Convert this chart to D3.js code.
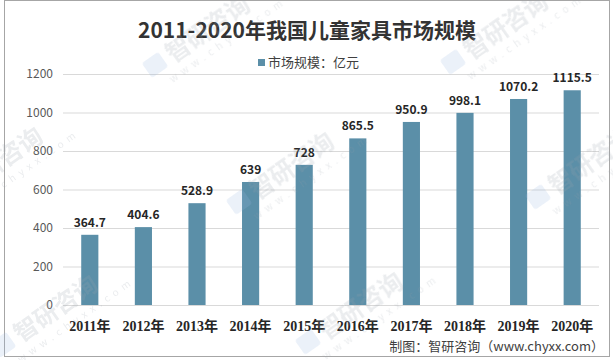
<!DOCTYPE html>
<html>
<head>
<meta charset="utf-8">
<script src="https://cdn.jsdelivr.net/npm/d3@7"></script>
<style>
body { margin: 0; background: #fff; }
</style>
</head>
<body>
<script>
const years = ["2011年", "2012年", "2013年", "2014年", "2015年", "2016年", "2017年", "2018年", "2019年", "2020年"];
const values = [364.7, 404.6, 528.9, 639, 728, 865.5, 950.9, 998.1, 1070.2, 1115.5];
const yTicks = [0, 200, 400, 600, 800, 1000, 1200];

let width = 613;
let height = 360;
let plotLeft = 63, plotRight = 599, plotTop = 74, plotBottom = 305;

let svg = d3.select("body")
    .append("svg")
    .attr("width", width)
    .attr("height", height)
    .style("font-family", "'Microsoft YaHei', 'Noto Sans CJK SC', sans-serif");

svg.append("rect")
    .attr("x", 4.5).attr("y", 0.5)
    .attr("width", 605).attr("height", 356)
    .attr("fill", "#fff")
    .attr("stroke", "#a6a6a6");

let x = d3.scaleBand()
    .domain(years)
    .range([plotLeft, plotRight])
    .paddingInner(0.68)
    .paddingOuter(0.34);
let y = d3.scaleLinear()
    .domain([0, 1200])
    .range([plotBottom, plotTop]);

// сетка
svg.append("g")
    .selectAll("line")
    .data(yTicks)
    .join("line")
    .attr("x1", plotLeft).attr("x2", plotRight)
    .attr("y1", d => y(d) + 0.5).attr("y2", d => y(d) + 0.5)
    .attr("stroke", "#d9d9d9");

svg.append("g")
    .selectAll("text")
    .data(yTicks)
    .join("text")
    .attr("x", 53)
    .attr("y", d => y(d) + 4)
    .attr("text-anchor", "end")
    .attr("font-size", 12)
    .attr("fill", "#595959")
    .text(d => d);

// столбцы
svg.append("g")
    .selectAll("rect")
    .data(values)
    .join("rect")
    .attr("x", (d, i) => x(years[i]))
    .attr("y", d => y(d))
    .attr("width", x.bandwidth())
    .attr("height", d => y(0) - y(d))
    .attr("fill", "#5b8fa8");

svg.append("g")
    .selectAll("text")
    .data(values)
    .join("text")
    .attr("x", (d, i) => x(years[i]) + x.bandwidth() / 2)
    .attr("y", d => y(d) - 8)
    .attr("text-anchor", "middle")
    .attr("font-size", 12)
    .attr("font-weight", "bold")
    .attr("fill", "#262626")
    .text(d => d);

svg.append("g")
    .selectAll("text")
    .data(years)
    .join("text")
    .attr("x", d => x(d) + x.bandwidth() / 2)
    .attr("y", 331)
    .attr("text-anchor", "middle")
    .attr("font-size", 14)
    .attr("font-weight", "bold")
    .attr("font-family", "'Liberation Serif', 'Noto Sans CJK SC', serif")
    .attr("fill", "#262626")
    .text(d => d);

// заголовок и легенда
svg.append("text")
    .attr("x", 307).attr("y", 38)
    .attr("text-anchor", "middle")
    .attr("font-size", 21)
    .attr("font-weight", "bold")
    .attr("fill", "#333")
    .text("2011-2020年我国儿童家具市场规模");

svg.append("rect")
    .attr("x", 258).attr("y", 59)
    .attr("width", 7).attr("height", 7)
    .attr("fill", "#5b8fa8");
svg.append("text")
    .attr("x", 268).attr("y", 67)
    .attr("font-size", 13)
    .attr("fill", "#404040")
    .text("市场规模：亿元");

svg.append("text")
    .attr("x", 604).attr("y", 351)
    .attr("text-anchor", "end")
    .attr("font-size", 13)
    .attr("fill", "#404040")
    .text("制图：智研咨询（www.chyxx.com）");

// водяные знаки
let marks = [[152, 78], [450, 75], [-55, 210], [236, 215], [535, 210], [0, 358], [305, 355]];
let wm = svg.append("g").attr("opacity", 0.2).attr("pointer-events", "none");
marks.forEach(p => {
    let g = wm.append("g").attr("transform", `translate(${p[0]},${p[1]}) rotate(-35)`);
    g.append("rect").attr("x", 0).attr("y", -18).attr("width", 20).attr("height", 18)
        .attr("rx", 3).attr("fill", "#9bb8e0");
    g.append("text").attr("x", 26).attr("y", 0)
        .attr("font-size", 24).attr("font-weight", "bold").attr("fill", "#9aa3ad")
        .text("智研咨询");
    g.append("text").attr("x", 14).attr("y", 16)
        .attr("font-size", 10).attr("letter-spacing", 5).attr("fill", "#9aa3ad")
        .text("www.chyxx.com");
});
</script>
</body>
</html>
